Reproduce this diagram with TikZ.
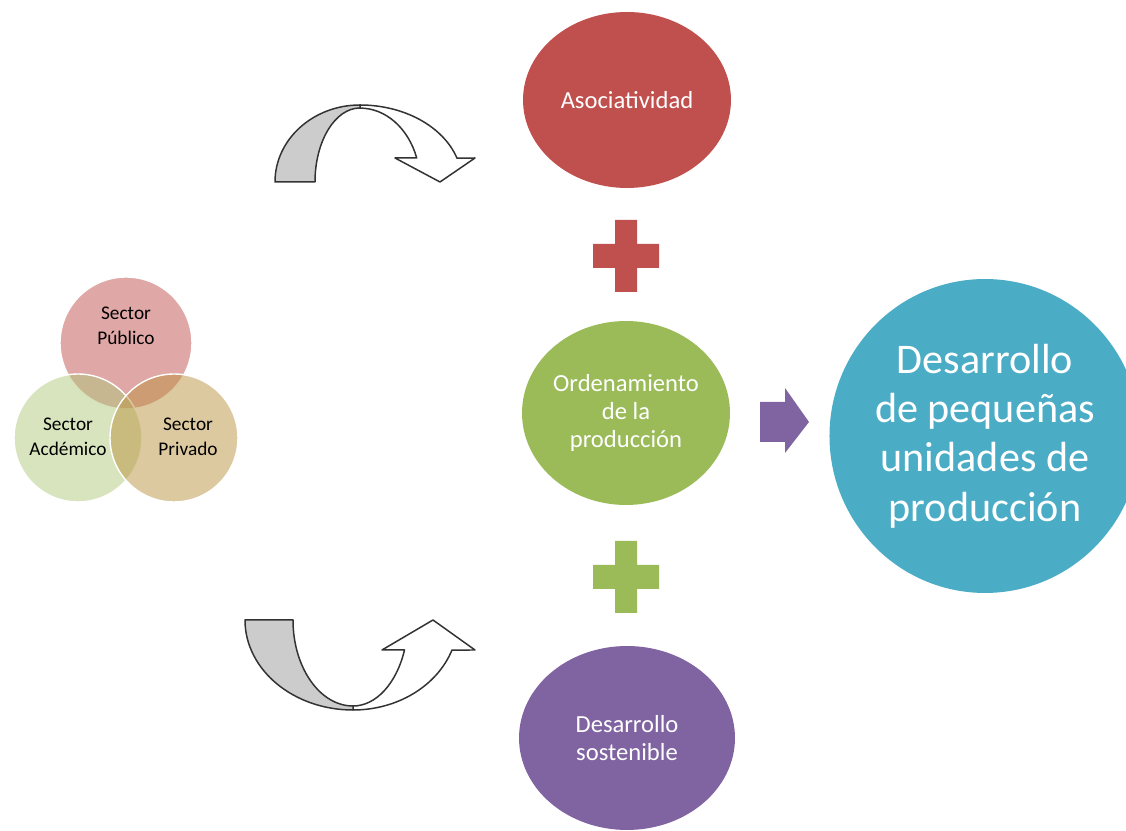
\documentclass[tikz,border=0pt]{standalone}
\usepackage{fontspec}
\setmainfont{Carlito}
\usepackage{tikz}
\usetikzlibrary{shapes.geometric}

\definecolor{rojo}{HTML}{C0504D}
\definecolor{verde}{HTML}{9BBB59}
\definecolor{morado}{HTML}{8064A2}
\definecolor{azul}{HTML}{4BACC6}
\definecolor{vrojo}{HTML}{C0504D}
\definecolor{vverde}{HTML}{AFC97B}
\definecolor{vcafe}{HTML}{BB9341}

\begin{document}
\begin{tikzpicture}[x=0.02cm,y=0.02cm,
    bubble/.style={ellipse,inner sep=0pt,text=white,align=center,font=\fontsize{14}{16}\selectfont},
    sector/.style={circle,inner sep=0pt,minimum size=2.56cm,draw=white,line width=0.8pt,fill opacity=0.5},
    sectortext/.style={align=center,font=\fontsize{11}{14}\selectfont},
    curva/.style={draw=black!80,line width=0.85pt,line join=round}]
    \clip (0,0) rectangle (1126,831);

    % columna central
    \node[bubble,fill=rojo,minimum width=4.16cm,minimum height=3.52cm] (asoc) at (627,731) {Asociatividad};
    \node[bubble,fill=verde,minimum width=4.16cm,minimum height=3.68cm] (orden) at (626,418) {Ordenamiento\\de la\\producción};
    \node[bubble,fill=morado,minimum width=4.32cm,minimum height=3.68cm] (sost) at (627,93) {Desarrollo\\sostenible};
    \node[ellipse,inner sep=0pt,fill=azul,text=white,align=center,minimum width=6.08cm,minimum height=6.28cm,
          font=\fontsize{24}{28}\selectfont] (unidades) at (985,395) {Desarrollo\\de pequeñas\\unidades de\\producción};

    % signos mas
    \coordinate (mas1) at (626,575);
    \coordinate (mas2) at (626,254);
    \fill[rojo,shift={(mas1)}] (-33,-12) rectangle (33,12) (-11,-36) rectangle (11,36);
    \fill[verde,shift={(mas2)}] (-33,-12) rectangle (33,12) (-11,-36) rectangle (11,36);

    % flecha hacia la derecha
    \fill[morado] (760,429) -- (785,429) -- (785,443) -- (809,409) -- (785,378) -- (785,389) -- (760,389) -- cycle;

    % sectores
    \node[sector,fill=vrojo,minimum size=2.64cm] (pub) at (126,488) {};
    \node[sector,fill=vverde] (acad) at (78,393) {};
    \node[sector,fill=vcafe] (priv) at (174,393) {};
    \node[sectortext] (tpub) at (126,505) {Sector\\Público};
    \node[sectortext] (tacad) at (68,394) {Sector\\Acdémico};
    \node[sectortext] (tpriv) at (188,394) {Sector\\Privado};

    % flecha curva de arriba
    \path[curva,fill=white] (360,726) arc[start angle=90,end angle=18,x radius=102,y radius=77]
        -- (475,673) -- (440,649) -- (395,673) -- (416.7,673)
        arc[start angle=19,end angle=90,x radius=60,y radius=74] -- cycle;
    \path[curva,fill=black!20] (275,649) arc[start angle=180,end angle=90,x radius=85,y radius=77]
        -- (360,723) arc[start angle=90,end angle=180,x radius=45,y radius=74] -- cycle;

    % flecha curva de abajo
    \path[curva,fill=white] (353,121) arc[start angle=270,end angle=340.5,x radius=105,y radius=90]
        -- (475,181) -- (433,211) -- (382,181) -- (404.5,181)
        arc[start angle=339.6,end angle=270,x radius=55,y radius=86] -- cycle;
    \path[curva,fill=black!20] (245,211) arc[start angle=180,end angle=270,x radius=108,y radius=90]
        -- (353,125) arc[start angle=270,end angle=180,x radius=60,y radius=86] -- cycle;
\end{tikzpicture}
\end{document}
